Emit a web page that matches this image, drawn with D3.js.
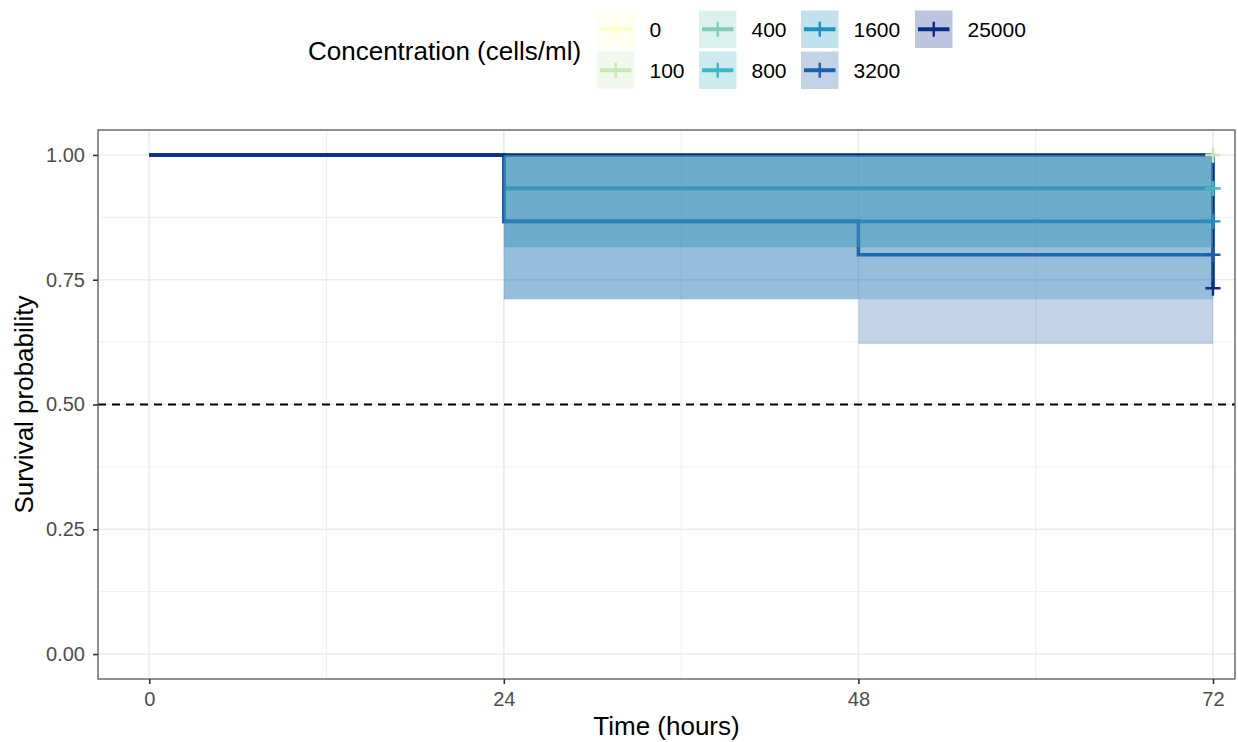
<!DOCTYPE html>
<html>
<head>
<meta charset="utf-8">
<script src="https://cdn.jsdelivr.net/npm/d3@7"></script>
<style>
  body { margin: 0; background: #fff; }
  svg { display: block; font-family: "Liberation Sans", Arial, Helvetica, sans-serif; }
</style>
</head>
<body>
<svg id="chart" width="1238" height="742"></svg>
<script>
// ---- data ----
const groups = ["0", "100", "400", "800", "1600", "3200", "25000"];
const colors = ["#ffffcc", "#c7e9b4", "#7fcdbb", "#41b6c4", "#1d91c0", "#225ea8", "#0c2c84"];
const times = [0, 24, 48, 72];
const survival = [
  [1, 1, 1, 1],
  [1, 1, 1, 1],
  [1, 0.933, 0.933, 0.933],
  [1, 0.933, 0.933, 0.933],
  [1, 0.867, 0.867, 0.867],
  [1, 0.867, 0.8, 0.8],
  [1, 1, 1, 0.733]
];
const lower = [
  [1, 1, 1, 1],
  [1, 1, 1, 1],
  [1, 0.815, 0.815, 0.815],
  [1, 0.815, 0.815, 0.815],
  [1, 0.711, 0.711, 0.711],
  [1, 0.711, 0.621, 0.621],
  [1, 1, 1, 0.544]
];
const upper = [
  [1, 1, 1, 1],
  [1, 1, 1, 1],
  [1, 1, 1, 1],
  [1, 1, 1, 1],
  [1, 1, 1, 1],
  [1, 1, 1, 1],
  [1, 1, 1, 1]
];
const xTicks = [0, 24, 48, 72];
const xMinor = [12, 36, 60];
const yTicks = [0, 0.25, 0.5, 0.75, 1];
const yMinor = [0.125, 0.375, 0.625, 0.875];
const medianLine = 0.5;
const legendTitle = "Concentration (cells/ml)";
const xTitle = "Time (hours)";
const yTitle = "Survival probability";

// ---- layout ----
const svg = d3.select("#chart");
const P = { left: 98, right: 1235, top: 130, bottom: 679 };
const x = d3.scaleLinear().domain([-3.47, 73.49]).range([P.left, P.right]);
const y = d3.scaleLinear().domain([-0.05, 1.05]).range([P.bottom, P.top]);
const ribbonAlpha = 0.27;

// grid
const grid = svg.append("g");
xMinor.forEach(v => grid.append("line").attr("x1", x(v)).attr("x2", x(v)).attr("y1", P.top).attr("y2", P.bottom).attr("stroke", "#ebebeb").attr("stroke-width", 0.8));
yMinor.forEach(v => grid.append("line").attr("x1", P.left).attr("x2", P.right).attr("y1", y(v)).attr("y2", y(v)).attr("stroke", "#ebebeb").attr("stroke-width", 0.8));
xTicks.forEach(v => grid.append("line").attr("x1", x(v)).attr("x2", x(v)).attr("y1", P.top).attr("y2", P.bottom).attr("stroke", "#ebebeb").attr("stroke-width", 1.6));
yTicks.forEach(v => grid.append("line").attr("x1", P.left).attr("x2", P.right).attr("y1", y(v)).attr("y2", y(v)).attr("stroke", "#ebebeb").attr("stroke-width", 1.6));

// data objects
const series = groups.map((g, i) => ({
  group: g, color: colors[i],
  pts: times.map((t, j) => ({ t, s: survival[i][j], lo: lower[i][j], hi: upper[i][j] }))
}));

svg.append("clipPath").attr("id", "clip").append("rect")
  .attr("x", P.left).attr("y", P.top).attr("width", P.right - P.left).attr("height", P.bottom - P.top);
const plot = svg.append("g").attr("clip-path", "url(#clip)");

const line = d3.line().x(d => x(d.t)).y(d => y(d.s)).curve(d3.curveStepAfter);
const area = d3.area().x(d => x(d.t)).y0(d => y(d.lo)).y1(d => y(d.hi)).curve(d3.curveStepAfter);

// step lines
plot.selectAll("path.km").data(series).join("path")
  .attr("class", "km").attr("d", d => line(d.pts))
  .attr("fill", "none").attr("stroke", d => d.color).attr("stroke-width", 3.6);

// confidence ribbons (drawn over lines)
plot.selectAll("path.ci").data(series).join("path")
  .attr("class", "ci").attr("d", d => area(d.pts))
  .attr("fill", d => d.color).attr("fill-opacity", ribbonAlpha).attr("stroke", "none");

// median line
plot.append("line").attr("x1", P.left).attr("x2", P.right)
  .attr("y1", y(medianLine)).attr("y2", y(medianLine))
  .attr("stroke", "#000").attr("stroke-width", 1.8).attr("stroke-dasharray", "8,6");

// censor marks
const cs = 7.5;
series.forEach(sr => {
  const last = sr.pts[sr.pts.length - 1];
  const cx = x(last.t), cy = y(last.s);
  plot.append("path").attr("d", `M${cx - cs},${cy}H${cx + cs}M${cx},${cy - cs}V${cy + cs}`)
    .attr("stroke", sr.color).attr("stroke-width", 2.4).attr("fill", "none");
});

// panel border
svg.append("rect").attr("x", P.left).attr("y", P.top).attr("width", P.right - P.left).attr("height", P.bottom - P.top)
  .attr("fill", "none").attr("stroke", "#555").attr("stroke-width", 1.3);

// axes
const xAxis = svg.append("g").attr("transform", `translate(0,${P.bottom})`)
  .call(d3.axisBottom(x).tickValues(xTicks).tickSize(5).tickPadding(8).tickFormat(d3.format("d")));
const yAxis = svg.append("g").attr("transform", `translate(${P.left},0)`)
  .call(d3.axisLeft(y).tickValues(yTicks).tickSize(5).tickPadding(8).tickFormat(d3.format(".2f")));
[xAxis, yAxis].forEach(a => {
  a.select(".domain").remove();
  a.selectAll(".tick line").attr("stroke", "#333").attr("stroke-width", 1.6);
  a.selectAll(".tick text").attr("fill", "#4d4d4d").attr("font-size", 20).attr("font-family", "Liberation Sans, Arial, sans-serif");
});

// titles
svg.append("text").attr("x", (P.left + P.right) / 2).attr("y", 735).attr("text-anchor", "middle")
  .attr("font-size", 26).attr("fill", "#000").text(xTitle);
svg.append("text").attr("transform", `translate(33,${(P.top + P.bottom) / 2}) rotate(-90)`).attr("text-anchor", "middle")
  .attr("font-size", 26).attr("fill", "#000").text(yTitle);

// legend
const leg = svg.append("g");
leg.append("text").attr("x", 308).attr("y", 60).attr("font-size", 26).attr("fill", "#000").text(legendTitle);
const colX = [597, 699, 801, 915];
const rowY = [10.5, 51.5];
const keyW = 37.5, keyH = 37.5;
groups.forEach((g, i) => {
  const c = Math.floor(i / 2), r = i % 2;
  const kx = colX[c], ky = rowY[r];
  const k = leg.append("g");
  k.append("rect").attr("x", kx).attr("y", ky).attr("width", keyW).attr("height", keyH)
    .attr("fill", colors[i]).attr("fill-opacity", ribbonAlpha);
  const cy = ky + keyH / 2, cx = kx + keyW / 2;
  k.append("line").attr("x1", kx + 3).attr("x2", kx + keyW - 3).attr("y1", cy).attr("y2", cy)
    .attr("stroke", colors[i]).attr("stroke-width", 4);
  k.append("line").attr("x1", cx).attr("x2", cx).attr("y1", cy - 7.5).attr("y2", cy + 7.5)
    .attr("stroke", colors[i]).attr("stroke-width", 2.4);
  k.append("text").attr("x", kx + keyW + 15).attr("y", cy + 7.5).attr("font-size", 21).attr("fill", "#000").text(g);
});
</script>
</body>
</html>
